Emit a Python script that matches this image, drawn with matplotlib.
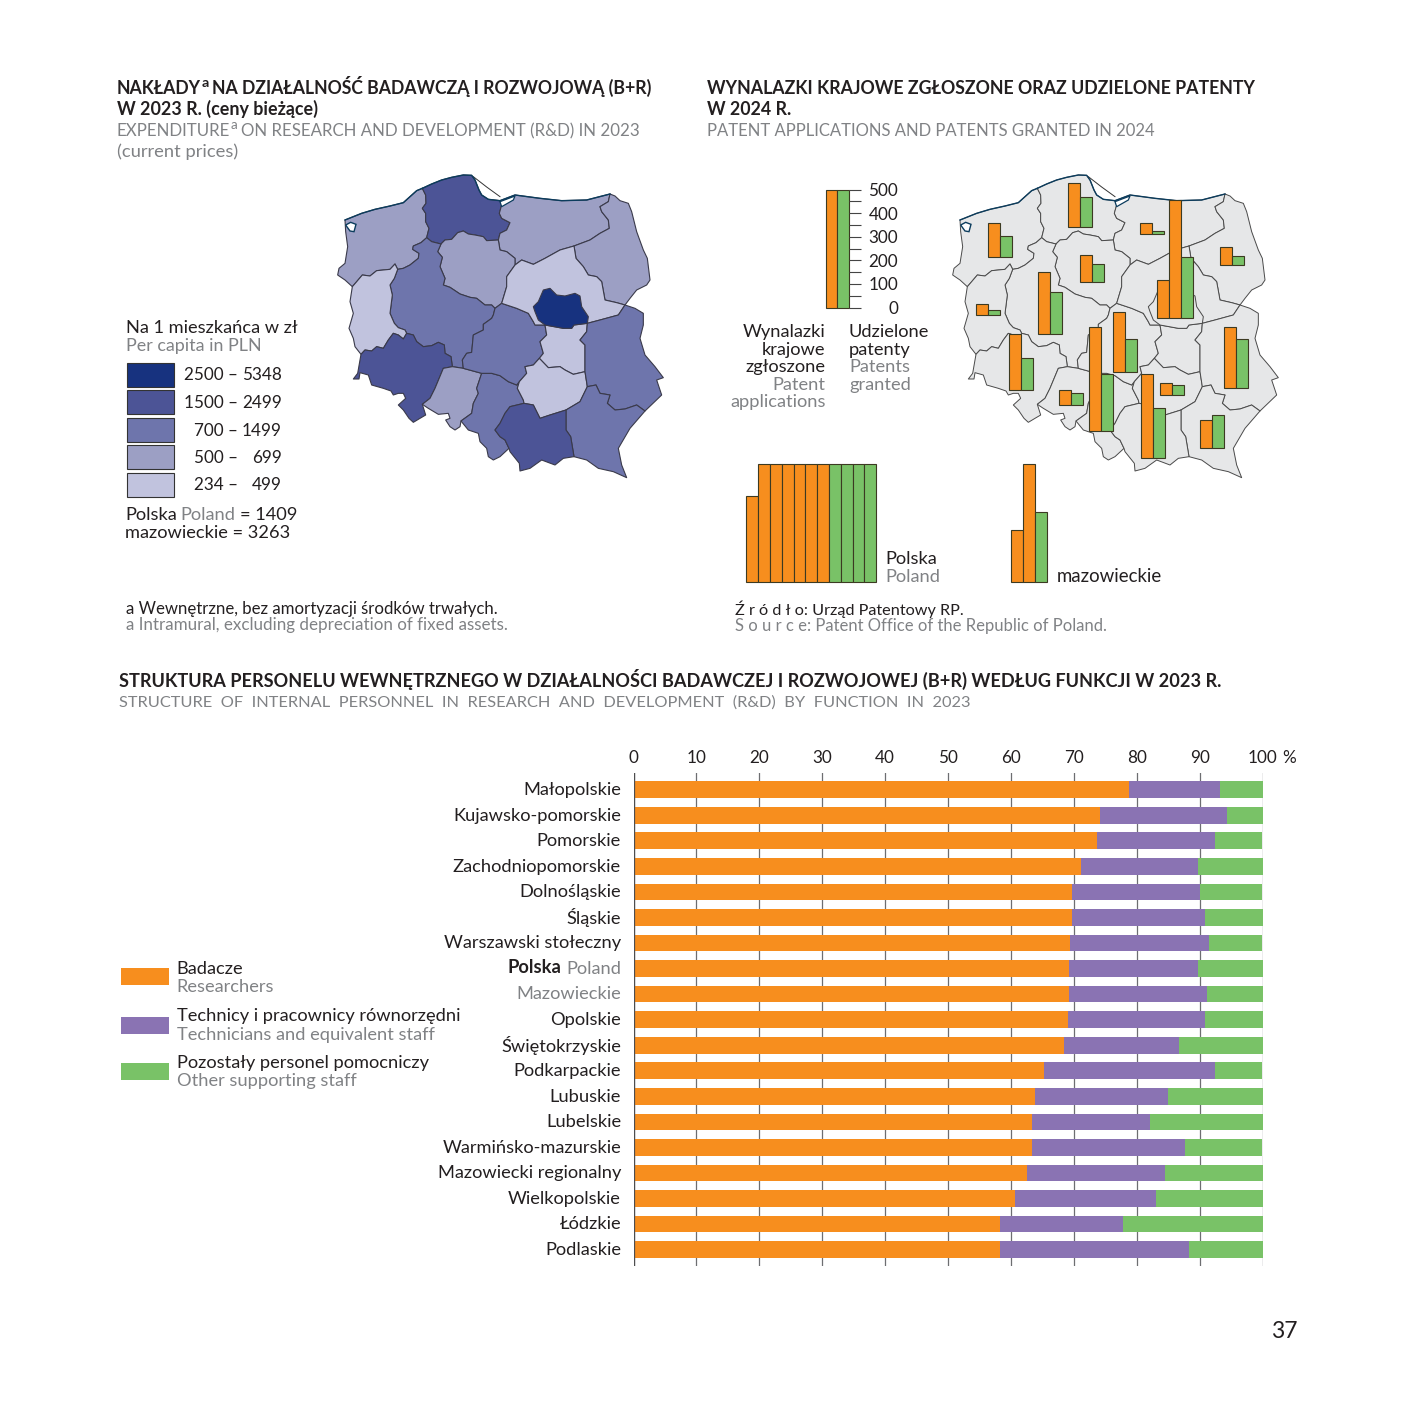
import matplotlib
matplotlib.use("Agg")
import matplotlib.pyplot as plt
from matplotlib.patches import Polygon, Rectangle
from matplotlib.transforms import ScaledTranslation

W, H = 1418, 1418
plt.rcParams['font.family'] = ['Lato', 'DejaVu Sans']
INK, GREY = '#231F20', '#808285'
ORANGE, PURPLE, GREEN = '#F78E1E', '#8A73B3', '#79C267'
EDGE = '#3C3A22'

# ---------- data: R&D personnel structure ----------
VOIV = ['Małopolskie', 'Kujawsko-pomorskie', 'Pomorskie', 'Zachodniopomorskie', 'Dolnośląskie', 'Śląskie',
        'Warszawski stołeczny', 'Poland', 'Mazowieckie', 'Opolskie', 'Świętokrzyskie', 'Podkarpackie',
        'Lubuskie', 'Lubelskie', 'Warmińsko-mazurskie', 'Mazowiecki regionalny', 'Wielkopolskie', 'Łódzkie', 'Podlaskie']
RESEARCHERS = [78.8, 74.2, 73.7, 71.2, 69.7, 69.7, 69.4, 69.2, 69.2, 69.0, 68.5, 65.3, 63.8, 63.4, 63.3, 62.6, 60.7, 58.2, 58.2]
TECHNICIANS = [14.5, 20.2, 18.7, 18.6, 20.4, 21.1, 22.1, 20.6, 22.0, 21.9, 18.2, 27.1, 21.2, 18.7, 24.4, 21.9, 22.3, 19.7, 30.1]
OTHER = [6.7, 5.6, 7.6, 10.2, 9.9, 9.2, 8.5, 10.2, 8.8, 9.1, 13.3, 7.6, 15.0, 17.9, 12.3, 15.5, 17.0, 22.1, 11.7]

# ---------- data: maps ----------
CLASS_LABELS = [('2500 –', '5348'), ('1500 –', '2499'), ('700 –', '1499'), ('500 –', '699'), ('234 –', '499')]
CLASS_COLORS = ['#17327F', '#4C5496', '#6E75AC', '#9C9FC4', '#C1C3DE']
RD_CLASS = dict(zp=3, pom=1, wm=3, pod=3, kuj=3, wlkp=2, lub=4, dol=1, op=3, sl=2, lodz=2, mazring=4,
                waw=0, lobe=4, swk=4, lublin=2, podk=2, mal=1)
PATENT_APPS = dict(zp=141, pom=185, wm=44, pod=75, kuj=116, wlkp=264, lub=47, dol=239, op=64, sl=438, lodz=251,
                   swk=48, mal=353, lublin=258, podk=119, waw=660)
PATENT_GRANTED = dict(zp=89, pom=126, wm=13, pod=38, kuj=78, wlkp=179, lub=23, dol=137, op=49, sl=239, lodz=137,
                      swk=41, mal=209, lublin=208, podk=140, waw=257)
POLAND_APPS, POLAND_GRANTED = 3364, 2000
MAZ_APPS, MAZ_GRANTED = 720, 297
COLUMN_CAP = 500

# region outlines, in map units (3 units = 1 pixel)
ARCS = dict(
    coast_zp=[(45,165),(95,145),(135,133),(180,123),(220,113),(240,95),(260,77),(277,70)],
    coast_pom=[(277,70),(305,57),(335,45),(365,37),(400,30),(425,31),(435,45),(447,75),(455,90),(475,103),(510,107)],
    coast_wm=[(510,107),(555,90),(630,100),(695,107),(770,105),(840,87)],
    e_pod=[(840,87),(855,93),(870,107),(895,115),(905,140),(920,200),(940,255),(952,280),(960,345),(950,360),(920,375),(900,400),(885,420)],
    e_lub=[(885,420),(915,430),(940,445),(940,480),(930,520),(945,570),(975,605),(1000,638),(980,645),(995,690),(945,738)],
    s_podk=[(945,738),(900,790),(865,850),(875,900),(890,938),(850,920),(805,910),(770,885),(732,875)],
    s_mal=[(732,875),(700,880),(675,900),(635,885),(600,910),(570,918),(568,895),(540,860),(537,850)],
    s_sl=[(537,850),(510,875),(490,885),(475,875),(470,850),(450,830),(445,805),(415,795),(393,768)],
    s_op=[(393,768),(390,785),(375,795),(360,785),(347,765),(360,760),(355,745),(325,748),(295,730),(277,718)],
    s_dol=[(277,718),(287,750),(270,760),(250,772),(237,760),(220,735),(205,720),(227,700),(220,685),(205,685),(190,690),(183,678),(160,670),(125,660),(115,630),(90,623),(87,642),(70,642),(83,625),(93,568)],
    w_lub=[(93,568),(75,545),(70,520),(57,490),(70,445),(60,410),(67,365)],
    w_zp=[(67,365),(45,345),(23,330),(27,310),(45,295),(53,245),(47,200),(45,165)],
    zp_pom=[(277,70),(287,90),(288,115),(277,130),(287,145),(287,170),(297,190),(290,218)],
    zp_wlkp=[(290,218),(273,233),(250,243),(248,253),(267,265),(265,280),(240,300),(220,310),(203,313)],
    zp_lub=[(203,313),(195,297),(180,313),(140,317),(120,333),(97,330),(80,350),(67,365)],
    pom_wlkp=[(290,218),(305,230),(333,237)],
    pom_kuj=[(333,237),(345,225),(365,223),(383,203),(400,198),(415,207),(435,210),(460,215),(470,227),(505,225)],
    pom_wm=[(510,107),(515,120),(508,145),(515,160),(540,173),(530,195),(510,205),(505,225)],
    wm_pod=[(840,87),(835,110),(810,125),(815,140),(835,165),(838,190),(810,205),(780,225),(732,243)],
    wm_maz=[(732,243),(690,255),(645,280),(610,298),(575,285),(555,300)],
    wm_kuj=[(555,300),(555,280),(530,260),(510,255),(505,225)],
    pod_maz=[(732,243),(738,280),(760,305),(775,330),(800,335),(815,350),(825,405),(860,413),(885,420)],
    kuj_wlkp=[(333,237),(323,260),(337,277),(330,305),(345,340),(340,360),(360,367),(390,387),(420,397),(440,400),(465,420),(485,420),(495,430)],
    kuj_lodz=[(495,430),(515,415)],
    kuj_maz=[(515,415),(518,405),(530,365),(530,335),(555,300)],
    wlkp_lub=[(203,313),(193,340),(180,360),(187,390),(180,445),(193,475),(205,488),(225,495),(230,505)],
    lub_dol=[(230,505),(220,522),(205,510),(190,505),(175,525),(160,550),(140,545),(125,558),(105,555),(93,568)],
    wlkp_dol=[(230,505),(250,510),(260,530),(280,545),(305,542),(325,532),(343,540),(345,565),(363,575),(367,605)],
    wlkp_op=[(367,605),(400,610)],
    wlkp_lodz=[(400,610),(397,585),(410,565),(425,562),(430,510),(460,495),(460,478),(485,460),(490,450),(495,430)],
    dol_op=[(277,718),(300,700),(315,670),(340,610),(367,605)],
    op_lodz=[(400,610),(455,625)],
    op_sl=[(393,768),(425,745),(430,715),(445,685),(440,670),(455,625)],
    sl_lodz=[(455,625),(485,625),(510,632),(535,650),(560,660),(568,650)],
    sl_swk=[(568,650),(562,670),(580,705),(582,715)],
    sl_mal=[(582,715),(540,725),(525,745),(510,775),(495,795),(510,815),(525,825),(537,850)],
    lodz_swk=[(628,580),(610,600),(585,605),(590,625),(568,650)],
    lodz_lobe=[(645,480),(650,510),(630,530),(640,565),(628,580)],
    lodz_maz=[(515,415),(560,430),(595,445),(610,470),(615,480),(645,480)],
    lobe_swk=[(628,580),(655,608),(690,605),(705,615),(730,628),(765,620)],
    lobe_lub=[(772,475),(770,500),(750,525),(765,540),(765,620)],
    maz_lub=[(885,420),(865,450),(810,465),(772,475)],
    swk_mal=[(582,715),(610,720),(630,760),(660,750),(708,735)],
    swk_podk=[(708,735),(750,710),(772,665)],
    swk_lub=[(765,620),(772,665)],
    lub_podk=[(772,665),(798,660),(810,685),(840,690),(832,715),(855,735),(885,732),(920,720),(945,738)],
    mal_podk=[(708,735),(708,795),(722,815),(732,875)],
    waw_south=[(772,475),(732,480),(725,490),(700,490),(645,480)],
    waw_north=[(645,480),(625,465),(615,440),(610,425),(625,410),(640,375),(660,370),(680,390),(705,393),(735,385),(750,393),(755,425),(775,455),(772,475)],
)
REGIONS = dict(
    zp=['coast_zp','zp_pom','zp_wlkp','zp_lub','w_zp'],
    pom=['coast_pom','pom_wm','-pom_kuj','-pom_wlkp','-zp_pom'],
    wm=['coast_wm','wm_pod','wm_maz','wm_kuj','-pom_wm'],
    pod=['e_pod','-pod_maz','-wm_pod'],
    kuj=['pom_kuj','-wm_kuj','-kuj_maz','-kuj_lodz','-kuj_wlkp'],
    wlkp=['pom_wlkp','kuj_wlkp','-wlkp_lodz','-wlkp_op','-wlkp_dol','-wlkp_lub','-zp_wlkp'],
    lub=['wlkp_lub','lub_dol','w_lub','-zp_lub'],
    dol=['wlkp_dol','-dol_op','s_dol','-lub_dol'],
    op=['wlkp_op','op_lodz','-op_sl','s_op','dol_op'],
    sl=['sl_lodz','sl_swk','sl_mal','s_sl','op_sl'],
    lodz=['kuj_lodz','lodz_maz','lodz_lobe','lodz_swk','-sl_lodz','-op_lodz','wlkp_lodz'],
    mazring=['-wm_maz','pod_maz','maz_lub','waw_south','-lodz_maz','kuj_maz'],
    lobe=['-waw_south','lobe_lub','-lobe_swk','-lodz_lobe'],
    swk=['lobe_swk','swk_lub','-swk_podk','-swk_mal','-sl_swk','-lodz_swk'],
    lublin=['e_lub','-lub_podk','-swk_lub','-lobe_lub','-maz_lub'],
    podk=['lub_podk','s_podk','-mal_podk','swk_podk'],
    mal=['swk_mal','mal_podk','s_mal','-sl_mal'],
    waw=['waw_north','waw_south'],
)
LAGOON = [(47,180),(62,172),(78,178),(72,200),(60,198)]
COAST_LINES = ['coast_zp', 'coast_pom', 'coast_wm']
HEL = [(430,35),(470,66),(510,95)]
VISTULA = [(510,110),(555,93),(550,105),(515,125)]
# where each small chart stands on the right map, in pixels
BAR_ANCHORS = dict(zp=(987.7,256.7), pom=(1068,226.7), wm=(1140.3,233.7), pod=(1220,265), kuj=(1080.3,282.3),
                   wlkp=(1038.3,334), lub=(976,315.3), dol=(1009,390.3), op=(1058.7,405), sl=(1088.7,430.7),
                   lodz=(1112.7,371.7), swk=(1160,394.7), mal=(1140.7,457.7), lublin=(1224,388.3),
                   podk=(1200,448.3), waw=(1157.3,318))

fig = plt.figure(figsize=(W / 100, H / 100), dpi=100, facecolor='white')
page = fig.add_axes([0, 0, 1, 1])
page.set_xlim(0, W); page.set_ylim(H, 0); page.axis('off')
renderer = fig.canvas.get_renderer()
BODY = 13.15


def T(x, y, s, color=INK, size=BODY, weight='normal', ha='left', **kw):
    return page.text(x, y, s, color=color, fontsize=size, fontweight=weight, ha=ha, va='baseline', **kw)


def chain(x, y, segs, size=BODY, weight='normal'):
    """segments: (text, colour, gap before in px, size factor, rise in px)"""
    for s, col, gap, f, rise in segs:
        x += gap
        t = T(x, y - rise, s, col, size * f, weight)
        x = t.get_window_extent(renderer).x1


def outline(names):
    pts = []
    for n in names:
        a = ARCS[n.lstrip('-')]
        pts += a[::-1] if n.startswith('-') else a
    return pts


def draw_map(x0, fill_of, edge, lw):
    ax = fig.add_axes([x0 / W, 1 - (165 + 320) / H, 340 / W, 320 / H])
    ax.set_xlim(0, 1020); ax.set_ylim(960, 0); ax.axis('off')
    for k, names in REGIONS.items():
        ax.add_patch(Polygon(outline(names), closed=True, fc=fill_of(k), ec=edge, lw=lw, joinstyle='round'))
    ax.add_patch(Polygon(LAGOON, closed=True, fc='white', ec='#0B3C5D', lw=1.0))
    ax.add_patch(Polygon(VISTULA, closed=True, fc='white', ec='#0B3C5D', lw=0.9))
    ax.plot(*zip(*HEL), color='#333333', lw=0.7)
    for n in COAST_LINES:
        ax.plot(*zip(*ARCS[n]), color='#0B3C5D', lw=1.0)
    return ax


def wrapped(total):
    rest, full = total % COLUMN_CAP, total // COLUMN_CAP
    return ([rest] if rest else []) + [COLUMN_CAP] * full


def columns(left, base, apps, granted, bw=11.9):
    a, g = wrapped(apps), wrapped(granted)
    vals, cols = a + g, [ORANGE] * len(a) + [GREEN] * len(g)
    n = len(vals)
    ax = fig.add_axes([left / W, 1 - base / H, n * bw / W, 118 / H])
    ax.set_xlim(-.5, n - .5); ax.set_ylim(0, COLUMN_CAP)
    ax.bar(range(n), vals, width=1, color=cols, edgecolor=EDGE, linewidth=0.8, clip_on=False)
    ax.axis('off')
    return ax


# ---------- headers ----------
chain(117, 94, [('NAKŁADY', INK, 0, 1, 0), ('a', INK, 0.5, .8, 7), ('NA DZIAŁALNOŚĆ BADAWCZĄ I ROZWOJOWĄ (B+R)', INK, 3, 1, 0)], 12.72, 'bold')
T(117, 115, 'W 2023 R. (ceny bieżące)', size=12.85, weight='bold')
chain(117, 136, [('EXPENDITURE', GREY, 0, 1, 0), ('a', GREY, 0.5, .8, 7), ('ON RESEARCH AND DEVELOPMENT (R&D) IN 2023', GREY, 3, 1, 0)], 12.15)
T(117, 157, '(current prices)', GREY, 13.2)
T(707, 94, 'WYNALAZKI KRAJOWE ZGŁOSZONE ORAZ UDZIELONE PATENTY', size=12.75, weight='bold')
T(707, 115, 'W 2024 R.', size=12.75, weight='bold')
T(707, 136, 'PATENT APPLICATIONS AND PATENTS GRANTED IN 2024', GREY, 11.95)

# ---------- left map + legend ----------
draw_map(330, lambda k: CLASS_COLORS[RD_CLASS[k]], '#3A3A4A', 0.8)
T(126, 333, 'Na 1 mieszkańca w zł')
T(126, 351, 'Per capita in PLN', GREY, 12.9)
for i, (lab, c) in enumerate(zip(CLASS_LABELS, CLASS_COLORS)):
    yc = 374.5 + i * 27.5
    page.add_patch(Rectangle((126.5, yc - 12), 47, 24, fc=c, ec='#333333', lw=0.8))
    T(238, yc + 6, lab[0], size=12.3, ha='right')
    T(282, yc + 6, lab[1], size=12.3, ha='right')
chain(125, 520, [('Polska', INK, 0, 1, 0), ('Poland', GREY, 4, 1, 0), ('= 1409', INK, 4, 1, 0)])
T(125, 538, 'mazowieckie = 3263')
T(126, 614, 'a Wewnętrzne, bez amortyzacji środków trwałych.', size=12.1)
T(126, 630, 'a Intramural, excluding depreciation of fixed assets.', GREY, size=12.25)

# ---------- right map + patents ----------
draw_map(945, lambda k: '#E6E7E8', '#4A4A4A', 0.7)
for k, (lx, base) in BAR_ANCHORS.items():
    columns(lx, base, PATENT_APPS[k], PATENT_GRANTED[k])

key = columns(825.5, 307.5, COLUMN_CAP, COLUMN_CAP)
key.axis('on')
for s in key.spines.values():
    s.set_visible(False)
key.patch.set_visible(False)
key.set_xticks([])
key.yaxis.tick_right()
key.set_yticks(range(0, 501, 100))
key.set_yticks(range(50, 500, 100), minor=True)
key.tick_params(axis='y', which='both', length=8.6, width=0.8, color='#444444', direction='out', labelcolor=INK, labelsize=12.3, pad=26.6)
for lb in key.get_yticklabels():
    lb.set_ha('right')

for y, s, c in [(337, 'Wynalazki', INK), (355, 'krajowe', INK), (372, 'zgłoszone', INK), (390, 'Patent', GREY), (407, 'applications', GREY)]:
    T(825.5, y, s, c, ha='right')
for y, s, c in [(337, 'Udzielone', INK), (355, 'patenty', INK), (372, 'Patents', GREY), (390, 'granted', GREY)]:
    T(849, y, s, c)

columns(746.3, 582.3, POLAND_APPS, POLAND_GRANTED, bw=11.82)
columns(1011.3, 582.3, MAZ_APPS, MAZ_GRANTED, bw=12)
T(885, 564, 'Polska'); T(885, 582, 'Poland', GREY)
T(1057, 582, 'mazowieckie', size=13.4)
T(735, 615, 'Ź r ó d ł o: Urząd Patentowy RP.', size=11.7)
T(735, 631, 'S o u r c e: Patent Office of the Republic of Poland.', GREY, size=11.95)

# ---------- lower chart ----------
T(119, 686.5, 'STRUKTURA PERSONELU WEWNĘTRZNEGO W DZIAŁALNOŚCI BADAWCZEJ I ROZWOJOWEJ (B+R) WEDŁUG FUNKCJI W 2023 R.', size=13.02, weight='bold')
T(119, 707, 'STRUCTURE  OF  INTERNAL  PERSONNEL  IN  RESEARCH  AND  DEVELOPMENT  (R&D)  BY  FUNCTION  IN  2023', GREY, size=11.75)

ax = fig.add_axes([633.5 / W, 1 - 1266 / H, 629 / W, (1266 - 773) / H])
ax.patch.set_visible(False)
ys = range(len(VOIV))
left2 = [a + b for a, b in zip(RESEARCHERS, TECHNICIANS)]
ax.barh(ys, RESEARCHERS, height=0.654, color=ORANGE, zorder=3)
ax.barh(ys, TECHNICIANS, left=RESEARCHERS, height=0.654, color=PURPLE, zorder=3)
ax.barh(ys, OTHER, left=left2, height=0.654, color=GREEN, zorder=3)
ax.set_xlim(0, 100); ax.set_ylim(18.64, -0.654)
ax.xaxis.tick_top()
ax.set_xticks(range(0, 101, 10))
ax.grid(axis='x', color='#6D6E71', lw=0.9, zorder=1)
ax.set_axisbelow(True)
ax.axvline(0, color='#4D4D4F', lw=0.9, zorder=4)
for s in ax.spines.values():
    s.set_visible(False)
ax.tick_params(axis='x', length=0, pad=5.2, labelsize=12.3, labelcolor=INK)
ax.set_yticks(list(ys), VOIV)
ax.tick_params(axis='y', length=0, pad=9, labelsize=BODY)
up = ScaledTranslation(0, 1 / 72 * 0.9, fig.dpi_scale_trans)
for lb, name in zip(ax.get_yticklabels(), VOIV):
    lb.set_va('center_baseline')
    lb.set_transform(lb.get_transform() + up)
    lb.set_color(GREY if name in ('Poland', 'Mazowieckie') else INK)
fig.canvas.draw()
bb = ax.get_yticklabels()[VOIV.index('Poland')].get_window_extent(renderer)
T(bb.x0 - 5, 973, 'Polska', weight='bold', ha='right')
T(1282, 763, '%', size=12.3)

for y, c in [(976.5, ORANGE), (1025, PURPLE), (1071.5, GREEN)]:
    page.add_patch(Rectangle((121, y - 8.5), 48, 17, fc=c, ec='none'))
T(176, 974, 'Badacze'); T(176, 992, 'Researchers', GREY)
T(177, 1021, 'Technicy i pracownicy równorzędni'); T(177, 1040, 'Technicians and equivalent staff', GREY)
T(177, 1068, 'Pozostały personel pomocniczy'); T(177, 1086, 'Other supporting staff', GREY)
T(1298, 1338, '37', size=16.5, ha='right')

fig.savefig('out.png', dpi=100)
